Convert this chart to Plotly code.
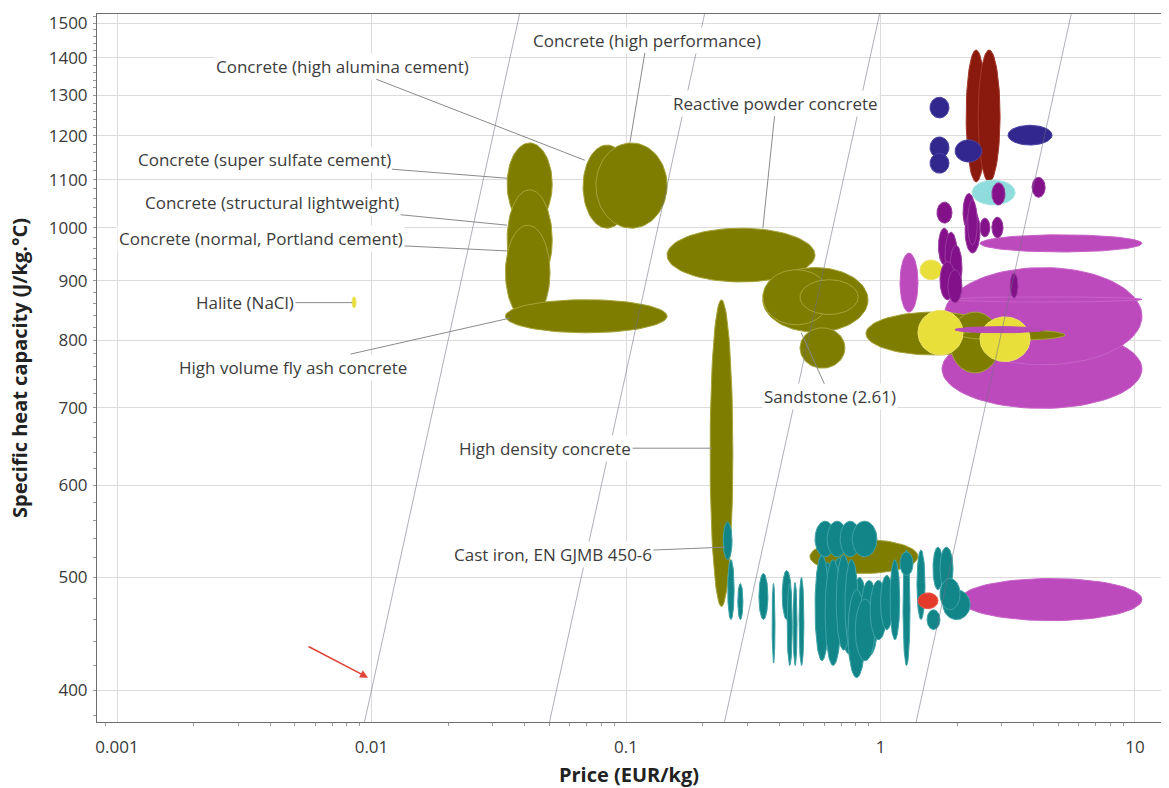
import numpy as np
import plotly.graph_objects as go

# ---------------- data (price range in EUR/kg, specific heat range in J/kg.°C) ----------------
# olive: concretes and stones
olive_p_lo = [0.0341, 0.0341, 0.0336, 0.0336, 0.0678, 0.0762, 0.145, 0.345, 0.345, 0.483, 0.483, 0.214, 0.877, 1.876, 2.054, 0.528]
olive_p_hi = [0.0513, 0.0513, 0.0503, 0.145, 0.1046, 0.145, 0.553, 0.893, 0.633, 0.817, 0.725, 0.263, 2.948, 2.948, 5.31, 1.404]
olive_c_lo = [1005, 884, 833, 812, 999, 999, 898, 813, 825, 842, 757, 472, 777, 750, 800, 504]
olive_c_hi = [1183, 1078, 1005, 867, 1178, 1183, 999, 924, 920, 902, 820, 867, 846, 846, 817, 539]

# magenta: polymers/composites (drawn first, behind)
mag_p_lo = [1.745, 1.777, 2.46, 1.193, 1.876, 2.054]
mag_p_hi = [10.65, 10.65, 10.65, 1.404, 10.65, 10.65]
mag_c_lo = [699, 762, 953, 846, 863, 459]
mag_c_hi = [817, 924, 986, 951, 872, 499]

# magenta thin bar crossing the yellow bubbles
mag2_p_lo = [1.963]
mag2_p_hi = [4.436]
mag2_c_lo = [812]
mag2_c_hi = [822]

# yellow: halite and salts / glasses
yel_p_lo = [0.00838, 1.404, 2.46, 1.43]
yel_p_hi = [0.0087, 2.11, 3.87, 1.745]
yel_c_lo = [853, 777, 767, 902]
yel_c_hi = [872, 849, 838, 938]

# teal: cast irons and steels
teal_p_lo = [0.241, 0.251, 0.275, 0.333, 0.375, 0.411, 0.430, 0.454, 0.479,
             0.580, 0.640, 0.700, 0.780,
             0.553, 0.606, 0.670, 0.725, 0.745, 0.833, 0.796, 0.910, 1.00, 1.09,
             1.226, 1.391, 1.193, 1.608, 1.713, 1.524, 1.76, 1.713,
             0.553, 0.617, 0.694, 0.774]
teal_p_hi = [0.261, 0.266, 0.288, 0.361, 0.385, 0.446, 0.450, 0.470, 0.500,
             0.660, 0.740, 0.800, 0.880,
             0.627, 0.700, 0.767, 0.817, 0.871, 0.978, 0.951, 1.06, 1.12, 1.19,
             1.306, 1.496, 1.342, 1.76, 1.927, 1.713, 2.25, 2.054,
             0.664, 0.740, 0.833, 0.968]
teal_c_lo = [518, 460, 460, 460, 422, 460, 420, 420, 420,
             440, 445, 430, 440,
             424, 420, 433, 433, 410, 428, 424, 442, 451, 442,
             420, 460, 502, 488, 488, 451, 460, 469,
             521, 521, 521, 521]
teal_c_hi = [558, 518, 494, 504, 494, 507, 494, 495, 500,
             515, 520, 505, 500,
             523, 518, 523, 518, 488, 497, 479, 497, 502, 518,
             528, 528, 526, 531, 531, 469, 488, 499,
             559, 559, 559, 559]

# red
red_p_lo = [1.404]
red_p_hi = [1.683]
red_c_lo = [470]
red_c_hi = [485]

# dark red
dred_p_lo = [2.17, 2.42]
dred_p_hi = [2.60, 2.95]
dred_c_lo = [1095, 1095]
dred_c_hi = [1422, 1422]

# light cyan
cyan_p_lo = [2.29]
cyan_p_hi = [3.38]
cyan_c_lo = [1046]
cyan_c_hi = [1099]

# navy
navy_p_lo = [1.565, 1.565, 1.565, 1.963, 3.17]
navy_p_hi = [1.858, 1.858, 1.858, 2.50, 4.72]
navy_c_lo = [1243, 1148, 1114, 1139, 1178]
navy_c_hi = [1295, 1197, 1159, 1190, 1225]

# dark purple
purp_p_lo = [1.667, 3.94, 2.74, 1.69, 1.793, 1.876, 1.713, 1.84, 2.11, 2.15, 2.20, 2.46, 2.74, 3.23]
purp_p_hi = [1.910, 4.436, 3.085, 1.876, 2.0, 2.09, 1.963, 2.09, 2.35, 2.46, 2.40, 2.69, 3.03, 3.47]
purp_c_lo = [1009, 1062, 1046, 929, 910, 884, 867, 862, 995, 951, 966, 982, 980, 870]
purp_c_hi = [1052, 1105, 1093, 999, 991, 966, 935, 920, 1070, 1036, 1056, 1019, 1021, 914]

# guide lines: specific heat / price = constant
guide_ratio = [40000, 7500, 1540, 272]

# labels: text, tip price, tip heat capacity
label_text = ["Concrete (high performance)", "Concrete (high alumina cement)", "Reactive powder concrete",
              "Concrete (super sulfate cement)", "Concrete (structural lightweight)",
              "Concrete (normal, Portland cement)", "Halite (NaCl)", "High volume fly ash concrete",
              "Sandstone (2.61)", "High density concrete", "Cast iron, EN GJMB 450-6"]
label_price = [0.1037, 0.0689, 0.345, 0.0341, 0.0341, 0.0341, 0.00838, 0.035, 0.488, 0.218, 0.245]
label_cp = [1185, 1143, 999, 1103, 1005, 955, 862, 836, 812, 646, 531]

x_tickvals = [0.001, 0.01, 0.1, 1, 10]
x_ticktext = ["0.001", "0.01", "0.1", "1", "10"]
y_tickvals = [400, 500, 600, 700, 800, 900, 1000, 1100, 1200, 1300, 1400, 1500]
y_ticktext = [str(v) for v in y_tickvals]

# ---------------- styling ----------------
label_offsets = [(17, -102), (-242, -94), (13, -125), (-243, -19), (-235, -23), (-246, -12),
                 (-107, 0), (-217, 49), (29, 64), (-167, 0), (-172, 7)]

fig = go.Figure()


def add_bubbles(p_lo, p_hi, c_lo, c_hi, fill, edge):
    t = np.linspace(0, 2 * np.pi, 90)
    for a, b, c, d in zip(p_lo, p_hi, c_lo, c_hi):
        la, lb, lc, ld = np.log10(a), np.log10(b), np.log10(c), np.log10(d)
        xs = 10 ** ((la + lb) / 2 + (lb - la) / 2 * np.cos(t))
        ys = 10 ** ((lc + ld) / 2 + (ld - lc) / 2 * np.sin(t))
        fig.add_trace(go.Scatter(x=xs, y=ys, mode="lines", fill="toself", fillcolor=fill,
                                 line=dict(color=edge, width=1), hoverinfo="skip", showlegend=False))


add_bubbles(mag_p_lo, mag_p_hi, mag_c_lo, mag_c_hi, "#bd4abd", "#c861c8")
add_bubbles(olive_p_lo, olive_p_hi, olive_c_lo, olive_c_hi, "#7f7d00", "#a5a43a")
add_bubbles(yel_p_lo, yel_p_hi, yel_c_lo, yel_c_hi, "#e8df3a", "#eee46a")
add_bubbles(mag2_p_lo, mag2_p_hi, mag2_c_lo, mag2_c_hi, "#b84ab8", "#b84ab8")
add_bubbles(teal_p_lo, teal_p_hi, teal_c_lo, teal_c_hi, "#128589", "#3ea3a6")
add_bubbles(red_p_lo, red_p_hi, red_c_lo, red_c_hi, "#e33a2c", "#e85a4c")
add_bubbles(dred_p_lo, dred_p_hi, dred_c_lo, dred_c_hi, "#8a1a0e", "#a3392b")
add_bubbles(cyan_p_lo, cyan_p_hi, cyan_c_lo, cyan_c_hi, "#8fdcdc", "#a8e6e6")
add_bubbles(navy_p_lo, navy_p_hi, navy_c_lo, navy_c_hi, "#31278d", "#4a42a2")
add_bubbles(purp_p_lo, purp_p_hi, purp_c_lo, purp_c_hi, "#82118a", "#9a3aa0")

# guide lines
y_span = np.array([360.0, 1560.0])
for k in guide_ratio:
    fig.add_trace(go.Scatter(x=y_span / k, y=y_span, mode="lines",
                             line=dict(color="rgba(110,110,130,0.55)", width=1),
                             hoverinfo="skip", showlegend=False))

annotations = []
for txt, px, cy, (dx, dy) in zip(label_text, label_price, label_cp, label_offsets):
    annotations.append(dict(x=np.log10(px), y=np.log10(cy), xref="x", yref="y", text=txt,
                            showarrow=True, arrowhead=0, arrowwidth=1, arrowcolor="#8a8a8a",
                            ax=dx, ay=dy, standoff=0, bgcolor="white", borderpad=1,
                            font=dict(family="Open Sans", size=17, color="#3c3c3c")))
# red pointer arrow
annotations.append(dict(x=np.log10(0.00969), y=np.log10(410), xref="x", yref="y", text="",
                        showarrow=True, arrowhead=2, arrowsize=1, arrowwidth=1.6,
                        arrowcolor="#e0443a", ax=-61, ay=-32))

x_minor = [m * 10.0 ** e for e in range(-4, 2) for m in range(2, 10)]
y_minor = list(range(380, 1530, 20))

fig.update_layout(
    width=1169, height=788,
    margin=dict(l=97, r=8, t=14, b=66),
    paper_bgcolor="white", plot_bgcolor="white",
    showlegend=False,
    annotations=annotations,
    font=dict(family="Open Sans", color="#333"),
    xaxis=dict(type="log", range=[-3.0786, 1.1022], tickvals=x_tickvals, ticktext=x_ticktext,
               automargin=False,
               showgrid=True, gridcolor="#dcdcdc", gridwidth=1, zeroline=False,
               showline=True, linecolor="#6e6e6e", linewidth=1, mirror=True, ticks="",
               ticklabelstandoff=10,
               tickfont=dict(family="Open Sans", size=17, color="#3a3a3a"),
               minor=dict(tickvals=x_minor, ticks="outside", ticklen=3, tickcolor="#9a9a9a", showgrid=False),
               title=dict(text="<b>Price (EUR/kg)</b>", standoff=12,
                          font=dict(family="Open Sans", size=20, color="#222"))),
    yaxis=dict(type="log", range=[2.5746, 3.1839], tickvals=y_tickvals, ticktext=y_ticktext,
               automargin=False,
               showgrid=True, gridcolor="#dcdcdc", gridwidth=1, zeroline=False,
               showline=True, linecolor="#6e6e6e", linewidth=1, ticks="",
               ticklabelstandoff=5,
               tickfont=dict(family="Open Sans", size=17, color="#3a3a3a"),
               minor=dict(tickvals=y_minor, ticks="outside", ticklen=3, tickcolor="#9a9a9a", showgrid=False),
               title=dict(text="<b>Specific heat capacity (J/kg.°C)</b>", standoff=15,
                          font=dict(family="Open Sans", size=20, color="#222"))),
)

fig.write_html("out.html", config={"displayModeBar": False},
               post_script="document.body.style.margin='0px';document.body.style.overflow='hidden';")
